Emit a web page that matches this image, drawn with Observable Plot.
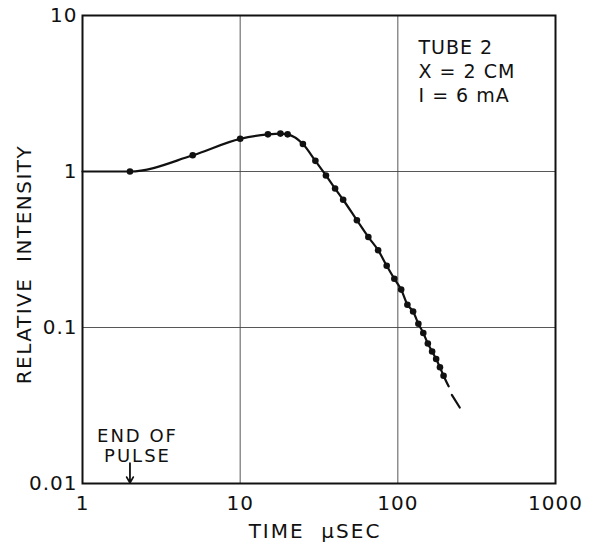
<!DOCTYPE html>
<html><head><meta charset="utf-8">
<script src="https://cdn.jsdelivr.net/npm/d3@7"></script>
<script src="https://cdn.jsdelivr.net/npm/@observablehq/plot@0.6"></script>
<style>
body{margin:0;background:#fff}
svg text{letter-spacing:1px}
svg .wide text, svg text.wide{letter-spacing:2px}
svg .ylab text, svg text.ylab{letter-spacing:1.5px}
</style>
</head><body><div id="chart"></div>
<script>
// measured points (time in µsec, relative intensity)
const timeUs = [2,5,10,15,18,20,25,30,35,40,45,55,65,75,85,95,105,115,125,135,145,155,165,175,185,195];
const intensity = [1.0,1.27,1.62,1.73,1.75,1.73,1.5,1.17,0.943,0.778,0.659,0.487,0.38,0.313,0.249,0.2055,0.175,0.14,0.1266,0.1057,0.0922,0.0789,0.0702,0.0628,0.0556,0.0491];
// start of the drawn curve and its solid tail past the last point
const startT = [1], startI = [1];
const tailT = [210], tailI = [0.042];
// dashed extrapolation
const dashT = [220, 247], dashI = [0.037, 0.0307];
const xTicks = [1, 10, 100, 1000];
const xTickLabels = ["1", "10", "100", "1000"];
const yTicks = [0.01, 0.1, 1, 10];
const yTickLabels = ["0.01", "0.1", "1", "10"];
const infoLines = ["TUBE 2", "X = 2 CM", "I = 6 mA"];
const noteLines = ["END OF", "PULSE"];
const pulseEnd = [2];
const xLabel = "TIME\u00a0 \u00b5SEC";
const yLabel = "RELATIVE  INTENSITY";

const pts = timeUs.map((t, i) => ({t, v: intensity[i]}));
const curve = [
  ...startT.map((t, i) => ({t, v: startI[i]})),
  ...pts,
  ...tailT.map((t, i) => ({t, v: tailI[i]}))
];
const dash = dashT.map((t, i) => ({t, v: dashI[i]}));

const chart = Plot.plot({
  width: 596, height: 544,
  marginLeft: 82, marginRight: 41, marginTop: 15, marginBottom: 61,
  style: {fontFamily: "DejaVu Sans", fontSize: "19px", color: "#111", background: "#fff"},
  x: {type: "log", domain: [1, 1000]},
  y: {type: "log", domain: [0.01, 10]},
  marks: [
    Plot.gridX(xTicks, {stroke: "#444", strokeOpacity: 1, strokeWidth: 0.9}),
    Plot.gridY(yTicks, {stroke: "#444", strokeOpacity: 1, strokeWidth: 0.9}),
    Plot.frame({stroke: "#111", strokeWidth: 2}),
    Plot.axisX(xTicks, {tickSize: 0, tickPadding: 12, label: null,
      tickFormat: d => xTickLabels[xTicks.indexOf(d)], fontSize: 20}),
    Plot.axisY(yTicks, {tickSize: 0, tickPadding: 5, label: null,
      tickFormat: d => yTickLabels[yTicks.indexOf(d)], fontSize: 20}),
    Plot.line(curve, {x: "t", y: "v", curve: "monotone-x", stroke: "#111", strokeWidth: 2.2}),
    Plot.line(dash, {x: "t", y: "v", stroke: "#111", strokeWidth: 2.2}),
    Plot.dot(pts, {x: "t", y: "v", r: 3.3, fill: "#111"}),
    Plot.text([infoLines.join("\n")], {frameAnchor: "top-left", dx: 336, dy: 22,
      textAnchor: "start", lineAnchor: "top", lineHeight: 1.25, fontSize: 19, fill: "#111"}),
    Plot.text([noteLines.join("\n")], {frameAnchor: "bottom-left", dx: 55, dy: -22,
      textAnchor: "middle", lineAnchor: "bottom", lineHeight: 1.1, fontSize: 18, fill: "#111", className: "wide"}),
    Plot.arrow(pulseEnd, {x1: d => d, x2: d => d, y1: 0.0135, y2: 0.0101,
      stroke: "#111", strokeWidth: 1.8, headLength: 7}),
    Plot.text([xLabel], {frameAnchor: "bottom", dy: 54, dx: -4, fontSize: 20, fill: "#111", className: "wide"}),
    Plot.text([yLabel], {frameAnchor: "left", textAnchor: "middle", dx: -58, dy: 15, rotate: -90, fontSize: 20, fill: "#111", className: "ylab"})
  ]
});
document.getElementById("chart").appendChild(chart);
</script>
</body></html>
